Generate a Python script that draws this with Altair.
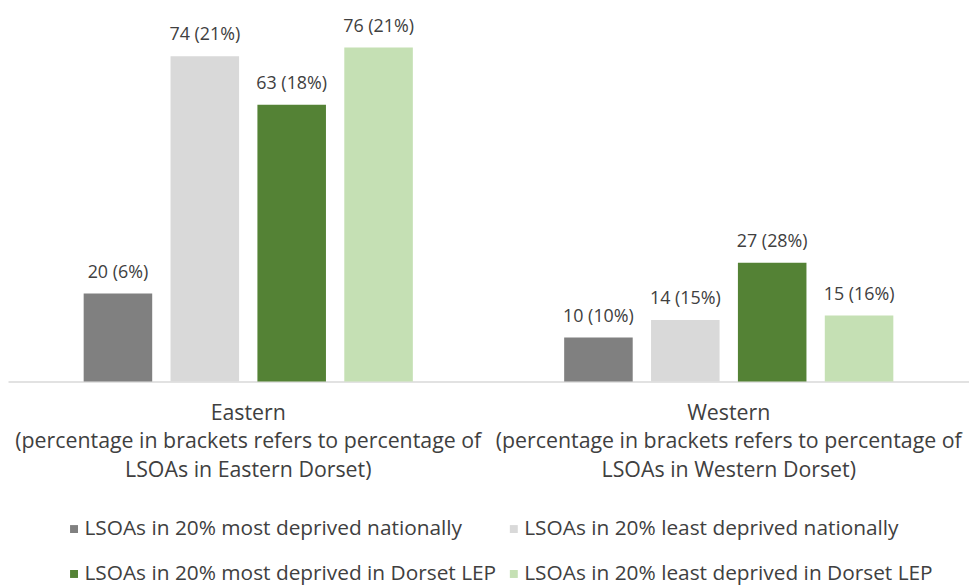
import altair as alt
import pandas as pd

regions = ["Eastern", "Western"]
categories = [
    "LSOAs in 20% most deprived nationally",
    "LSOAs in 20% least deprived nationally",
    "LSOAs in 20% most deprived in Dorset LEP",
    "LSOAs in 20% least deprived in Dorset LEP",
]
eastern_counts = [20, 74, 63, 76]
eastern_pct = [6, 21, 18, 21]
western_counts = [10, 14, 27, 15]
western_pct = [10, 15, 28, 16]
colors = ["#808080", "#d9d9d9", "#548235", "#c5e0b4"]

rows = []
for region, counts, pcts in [("Eastern", eastern_counts, eastern_pct), ("Western", western_counts, western_pct)]:
    for cat, c, p in zip(categories, counts, pcts):
        rows.append({"region": region, "category": cat, "count": c, "label": f"{c} ({p}%)"})
df = pd.DataFrame(rows)

FONT = "Open Sans"
TEXT = "#404040"

x = alt.X(
    "region:N",
    sort=regions,
    title=None,
    scale=alt.Scale(paddingInner=0, paddingOuter=0),
    axis=alt.Axis(
        labelAngle=0,
        ticks=False,
        domainColor="#d9d9d9",
        domainWidth=1.5,
        labelFont=FONT,
        labelFontSize=21.5,
        labelColor=TEXT,
        labelPadding=21,
        labelLineHeight=29,
        labelBaseline="top",
        labelLimit=0,
        labelExpr="[datum.label, '(percentage in brackets refers to percentage of', 'LSOAs in ' + datum.label + ' Dorset)']",
    ),
)
xo = alt.XOffset("category:N", sort=categories, scale=alt.Scale(paddingInner=0.211, paddingOuter=0.871))
y = alt.Y("count:Q", scale=alt.Scale(domain=[0, 80], nice=False), axis=None)

bars = alt.Chart(df).mark_bar().encode(
    x=x,
    xOffset=xo,
    y=y,
    color=alt.Color(
        "category:N",
        sort=categories,
        scale=alt.Scale(domain=categories, range=colors),
        legend=alt.Legend(
            title=None,
            orient="none",
            legendX=56,
            legendY=492,
            direction="horizontal",
            columns=2,
            symbolType="square",
            symbolSize=64,
            symbolStrokeWidth=0,
            labelFont=FONT,
            labelFontSize=21,
            labelColor=TEXT,
            labelOffset=0,
            labelLimit=0,
            rowPadding=23.5,
            columnPadding=6,
        ),
    ),
)

texts = alt.Chart(df).mark_text(
    baseline="bottom", dy=-12, font=FONT, fontSize=18, color=TEXT
).encode(x=x, xOffset=xo, y=y, text="label:N")

chart = (
    alt.layer(bars, texts)
    .properties(width=968, height=354, padding={"left": 0, "top": 7, "right": 0, "bottom": 0})
    .configure_view(stroke=None)
)

chart.save("out.html", embed_options={"renderer": "svg", "actions": False})
